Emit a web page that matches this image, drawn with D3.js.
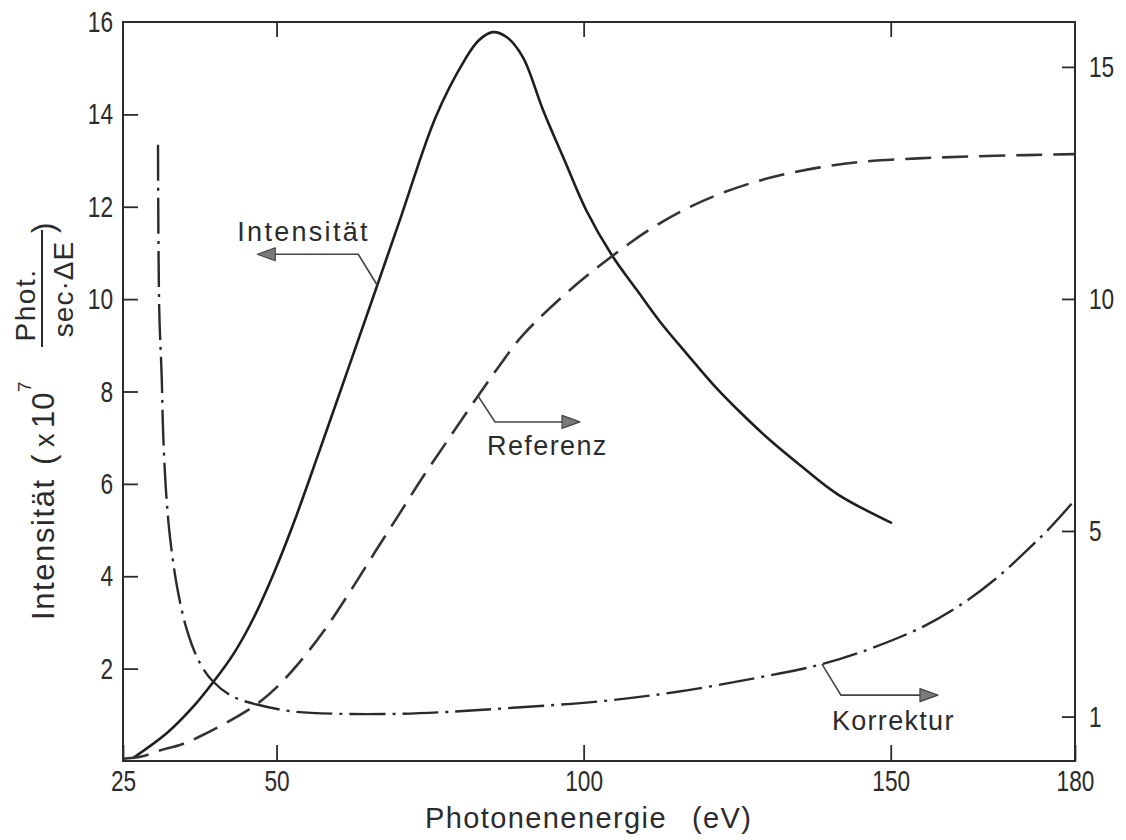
<!DOCTYPE html>
<html>
<head>
<meta charset="utf-8">
<script src="https://cdn.jsdelivr.net/npm/d3@7"></script>
<style>
    body { margin: 0; background: #fff; }
    text { font-family: "Liberation Sans", Arial, sans-serif; fill: #2b2b2b; }
</style>
</head>
<body>
<div id="chart"></div>
<script>
// values: [photon energy eV, value]
const intensitat = [
    [26.6, 0.06], [32.2, 0.61], [36.4, 1.17], [39.7, 1.71], [43, 2.32], [46.2, 3.08],
    [49.5, 4.05], [52.7, 5.12], [57, 6.72], [62, 8.62], [66.4, 10.3], [70.1, 11.72],
    [75.9, 13.94], [80.6, 15.17], [82.9, 15.6], [85.2, 15.78], [87.5, 15.67], [90.1, 15.24],
    [93.4, 14.09], [96.9, 13.0], [100.4, 11.93], [104.6, 10.95], [108.7, 10.19], [112.5, 9.5],
    [116.9, 8.8], [121.1, 8.15], [125.5, 7.55], [129.9, 7.0], [135.3, 6.4], [141.3, 5.78],
    [150.2, 5.15]
];
const referenz = [
    [25, 0.09], [28, 0.14], [31, 0.27], [34.5, 0.4], [37.5, 0.57], [42, 0.88], [46.8, 1.27],
    [50, 1.63], [53.8, 2.18], [58, 2.9], [62, 3.7], [66, 4.54], [70.1, 5.39], [74, 6.2],
    [78, 6.98], [82.8, 7.91], [86.5, 8.6], [90.1, 9.22], [98, 10.22], [104.4, 10.9],
    [110.8, 11.5], [116.5, 11.93], [122.5, 12.28], [130, 12.6], [138.2, 12.83],
    [145.7, 12.96], [154.5, 13.03], [163, 13.07], [172, 13.1], [180, 13.12]
];
const korrektur = [
    [30.7, 13.32], [30.9, 9.77], [31.3, 8.33], [31.56, 7.03], [32.1, 5.67], [32.7, 4.81],
    [33.8, 3.8], [35.4, 2.87], [37.5, 2.16], [39.7, 1.75], [42.9, 1.43], [46.8, 1.26],
    [52.7, 1.11], [60, 1.06], [70, 1.06], [77.8, 1.1], [88.5, 1.19], [102.7, 1.33],
    [115, 1.53], [128, 1.83], [138.5, 2.12], [147, 2.48], [155.3, 2.94], [161.3, 3.4],
    [167, 3.96], [172, 4.56], [176, 5.08], [180, 5.67]
];

const xTicks = [25, 50, 100, 150, 180];
const topTicks = [50, 100, 150];
const leftTicks = [2, 4, 6, 8, 10, 12, 14, 16];
const rightTicks = [1, 5, 10, 15];

// annotation anchors on the curves [E, value] and their labels
const labelNames = ["Intensität", "Referenz", "Korrektur"];
const labelAnchors = [[66.4, 10.3], [82.8, 7.91], [138.8, 2.13]];

const width = 1126, height = 840;
const ink = "#2b2b2b";

const svg = d3.select("#chart").append("svg")
    .attr("width", width)
    .attr("height", height);

const x = d3.scaleLinear().domain([25, 180]).range([123, 1075]);
const yLeft = d3.scaleLinear().domain([0, 16]).range([761, 22]);
const yRight = d3.scaleLinear().domain([0, 16]).range([763, 20.5]);

// frame
svg.append("rect")
    .attr("x", x(25))
    .attr("y", yLeft(16))
    .attr("width", x(180) - x(25))
    .attr("height", yLeft(0) - yLeft(16))
    .attr("fill", "none")
    .attr("stroke", ink)
    .attr("stroke-width", 2);

function styleAxis(g)
{
    g.select(".domain").remove();
    g.selectAll(".tick line").attr("stroke", ink).attr("stroke-width", 1.8);
    g.selectAll(".tick text")
        .attr("fill", ink)
        .style("font-size", "30px")
        .attr("textLength", function () { return this.textContent.length * 12.6; })
        .attr("lengthAdjust", "spacingAndGlyphs");
}

svg.append("g")
    .attr("transform", `translate(0,${yLeft(0)})`)
    .call(d3.axisBottom(x).tickValues(xTicks).tickSizeInner(-16).tickSizeOuter(0).tickPadding(9))
    .call(styleAxis);

svg.append("g")
    .attr("transform", `translate(0,${yLeft(16)})`)
    .call(d3.axisTop(x).tickValues(topTicks).tickSizeInner(-15).tickSizeOuter(0).tickFormat(""))
    .call(styleAxis);

svg.append("g")
    .attr("transform", `translate(${x(25)},0)`)
    .call(d3.axisLeft(yLeft).tickValues(leftTicks).tickSizeInner(-15).tickSizeOuter(0).tickPadding(10))
    .call(styleAxis)
    .call(g => g.selectAll(".tick").filter(d => d === 16).select("line").remove());

svg.append("g")
    .attr("transform", `translate(${x(180)},0)`)
    .call(d3.axisRight(yRight).tickValues(rightTicks).tickSizeInner(-13).tickSizeOuter(0).tickPadding(14))
    .call(styleAxis);

// curves
const lineLeft = d3.line()
    .x(d => x(d[0]))
    .y(d => yLeft(d[1]))
    .curve(d3.curveCatmullRom.alpha(0.5));
const lineRight = d3.line()
    .x(d => x(d[0]))
    .y(d => yRight(d[1]))
    .curve(d3.curveCatmullRom.alpha(0.5));

svg.append("path")
    .datum(intensitat)
    .attr("fill", "none")
    .attr("stroke", "#1e1e1e")
    .attr("stroke-width", 2.6)
    .attr("d", lineLeft);

svg.append("path")
    .datum(referenz)
    .attr("fill", "none")
    .attr("stroke", "#333")
    .attr("stroke-width", 2.6)
    .attr("stroke-dasharray", "26,11")
    .attr("d", lineRight);

svg.append("path")
    .datum(korrektur)
    .attr("fill", "none")
    .attr("stroke", "#2a2a2a")
    .attr("stroke-width", 2.4)
    .attr("stroke-dasharray", "36,7,3,7")
    .attr("d", lineRight);

// annotation pointers: elbow offset, horizontal run to arrow tip, text offset
const pointerLayout = [
    {scale: yLeft, elbow: [-19, -31], tip: -120, text: [-140, -44], spacing: 2.3},
    {scale: yRight, elbow: [17, 26], tip: 102, text: [9, 59], spacing: 1.4},
    {scale: yRight, elbow: [19, 31], tip: 116, text: [10, 66], spacing: 1.3}
];

labelNames.forEach((name, i) => {
    const lay = pointerLayout[i];
    const ax = x(labelAnchors[i][0]);
    const ay = lay.scale(labelAnchors[i][1]);
    const ex = ax + lay.elbow[0], ey = ay + lay.elbow[1];
    const tx = ax + lay.tip;
    const dir = Math.sign(tx - ex);
    const headLen = 18, headHalf = 6.5;

    svg.append("path")
        .attr("d", `M${ax},${ay}L${ex},${ey}L${tx - dir * headLen},${ey}`)
        .attr("fill", "none")
        .attr("stroke", "#444")
        .attr("stroke-width", 1.6);

    svg.append("path")
        .attr("d", `M${tx},${ey}L${tx - dir * headLen},${ey - headHalf}L${tx - dir * headLen},${ey + headHalf}Z`)
        .attr("fill", "#7a7a7a")
        .attr("stroke", "#444")
        .attr("stroke-width", 1.2)
        .attr("stroke-linejoin", "round");

    svg.append("text")
        .attr("x", ax + lay.text[0])
        .attr("y", ay + lay.text[1])
        .style("font-size", "27px")
        .style("letter-spacing", lay.spacing + "px")
        .text(name);
});

// x axis title
const xt = svg.append("text")
    .attr("x", 425)
    .attr("y", 828)
    .style("font-size", "29px")
    .style("letter-spacing", "1.4px");
xt.append("tspan").text("Photonenenergie");
xt.append("tspan").attr("x", 692).text("(eV)");

// y axis title, rotated
const yt = svg.append("g").attr("transform", "rotate(-90)");
yt.append("text")
    .attr("x", -620).attr("y", 54)
    .style("font-size", "31px")
    .style("letter-spacing", "1.6px")
    .text("Intensität");
yt.append("text")
    .attr("x", -465).attr("y", 54)
    .style("font-size", "31px")
    .text("(");
yt.append("text")
    .attr("x", -447).attr("y", 54)
    .style("font-size", "27px")
    .text("x");
yt.append("text")
    .attr("x", -428).attr("y", 54)
    .style("font-size", "31px")
    .style("letter-spacing", "1px")
    .text("10");
yt.append("text")
    .attr("x", -392).attr("y", 31)
    .style("font-size", "19px")
    .text("7");
yt.append("text")
    .attr("x", -305).attr("y", 35)
    .attr("text-anchor", "middle")
    .style("font-size", "28px")
    .style("letter-spacing", "1.5px")
    .text("Phot.");
yt.append("line")
    .attr("x1", -347).attr("x2", -230)
    .attr("y1", 42).attr("y2", 42)
    .attr("stroke", ink)
    .attr("stroke-width", 2);
yt.append("text")
    .attr("x", -289).attr("y", 73)
    .attr("text-anchor", "middle")
    .style("font-size", "28px")
    .style("letter-spacing", "1px")
    .text("sec·ΔE");
yt.append("text")
    .attr("x", -233).attr("y", 54)
    .style("font-size", "31px")
    .text(")");
</script>
</body>
</html>
